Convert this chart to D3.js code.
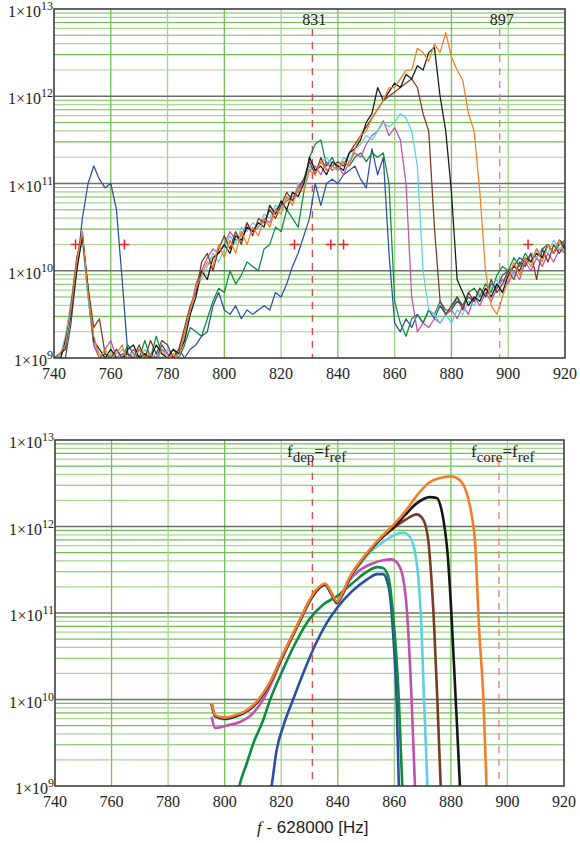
<!DOCTYPE html>
<html>
<head>
<meta charset="utf-8">
<script src="https://cdn.jsdelivr.net/npm/d3@7"></script>
<style>
  body { margin: 0; background: #fff; }
  text { font-family: "Liberation Serif", "DejaVu Serif", serif; fill: #222; }
</style>
</head>
<body>
<svg id="chart" width="580" height="843"></svg>
<script>
// ---- data ----
// top panel: measured spectra, log10 of the value, every 2 Hz from 740 to 920
var topFreq = d3.range(740, 921, 2);

var topBlue = [
  8.95, 9.0, 9.0, 9.4, 10.0, 10.6, 11.0, 11.2, 11.05, 10.95,
  11.0, 10.7, 9.9, 9.05, 8.95, 9.1, 9.0, 9.05, 9.0, 9.15,
  9.05, 9.0, 9.1, 9.0, 9.1, 9.15, 9.25, 9.3, 9.6, 9.75,
  9.55, 9.5, 9.6, 9.45, 9.55, 9.5, 9.55, 9.6, 9.55, 9.75,
  9.7, 9.85, 10.05, 10.2, 10.4, 10.6, 11.0, 10.75, 11.0, 11.05,
  11.0, 11.1, 11.15, 11.2, 11.05, 10.95, 11.4, 11.1, 11.3, 10.2,
  9.4, 9.3, 9.45, 9.35, 9.5, 9.4, 9.55, 9.45, 9.6, 9.5,
  9.55, 9.65, 9.6, 9.7, 9.65, 9.8, 9.7, 9.85, 9.8, 9.95,
  10.0, 10.05, 10.15, 10.1, 10.2, 10.15, 10.25, 10.3, 10.2, 10.35,
  10.3
];
var topGreen = [
  9.0, 9.05, 9.1, 9.5, 10.05, 10.38, 9.7, 9.15, 9.0, 9.05,
  9.0, 9.1, 9.0, 9.15, 9.05, 9.0, 9.2, 9.0, 9.25, 9.05,
  9.0, 9.1, 9.0, 9.15, 9.35, 9.3, 9.25, 9.45, 9.65, 9.8,
  9.75, 10.0, 9.85, 9.95, 10.1, 10.05, 10.0, 10.25, 10.3, 10.5,
  10.45, 10.7, 10.6, 10.5, 10.9, 11.3, 11.45, 11.5, 11.2, 11.3,
  11.15, 11.25, 11.2, 11.3, 11.35, 11.25, 11.35, 11.3, 11.35, 11.0,
  9.65, 9.4, 9.25, 9.45, 9.5, 9.4, 9.55, 9.5, 9.65, 9.55,
  9.55, 9.7, 9.6, 9.75, 9.8, 9.7, 9.85, 9.75, 9.95, 10.05,
  10.0, 10.15, 10.05, 10.2, 10.1, 10.25, 10.15, 10.3, 10.2, 10.3,
  10.35
];
var topMagenta = [
  8.95, 9.0, 9.15, 9.55, 10.05, 10.4, 9.75, 9.15, 9.0, 9.1,
  9.2, 9.0, 9.05, 9.0, 9.1, 9.0, 9.05, 8.95, 9.0, 9.1,
  9.05, 9.0, 9.1, 9.3, 9.55, 9.85, 10.0, 10.15, 10.25, 10.2,
  10.3, 10.45, 10.35, 10.4, 10.55, 10.45, 10.5, 10.6, 10.55, 10.7,
  10.75, 10.8, 10.85, 10.9, 11.05, 11.15, 11.2, 11.1, 11.25, 11.15,
  11.2, 11.1, 11.25, 11.35, 11.3, 11.45, 11.55, 11.6, 11.72, 11.55,
  11.64, 11.5, 11.0, 9.7, 9.3, 9.4, 9.35, 9.45, 9.4, 9.5,
  9.55, 9.45, 9.6, 9.5, 9.7, 9.6, 9.75, 9.65, 9.8, 9.9,
  9.85, 10.0, 9.9, 10.1, 10.0, 10.15, 10.05, 10.2, 10.1, 10.25,
  10.2
];
var topCyan = [
  9.0, 9.0, 9.25, 9.65, 10.1, 10.35, 9.7, 9.2, 9.05, 9.0,
  9.05, 9.0, 9.1, 9.0, 9.05, 8.95, 9.1, 9.0, 9.05, 9.0,
  9.1, 9.0, 9.05, 9.25, 9.5, 9.8, 9.9, 10.05, 10.2, 10.1,
  10.25, 10.4, 10.3, 10.5, 10.45, 10.55, 10.5, 10.65, 10.6, 10.75,
  10.7, 10.85, 10.8, 11.0, 10.95, 11.2, 11.15, 11.25, 11.3, 11.2,
  11.15, 11.3, 11.25, 11.4, 11.45, 11.55, 11.5, 11.6, 11.7, 11.65,
  11.7, 11.8, 11.75, 11.6, 11.2, 10.0, 9.55, 9.5, 9.4, 9.5,
  9.4, 9.55, 9.5, 9.65, 9.6, 9.75, 9.7, 9.8, 9.9, 9.75,
  10.0, 9.95, 10.1, 10.05, 10.2, 10.15, 10.25, 10.2, 10.35, 10.25,
  10.3
];
var topBrown = [
  8.95, 9.05, 9.1, 9.6, 10.15, 10.42, 9.8, 9.35, 9.45, 9.05,
  9.0, 9.1, 9.0, 9.05, 9.0, 9.15, 9.0, 9.2, 9.05, 9.2,
  9.15, 9.0, 9.1, 9.35, 9.6, 9.75, 10.1, 10.2, 10.0, 10.25,
  10.4, 10.25, 10.45, 10.3, 10.55, 10.4, 10.6, 10.55, 10.7, 10.6,
  10.75, 10.9, 10.8, 10.95, 11.05, 11.25, 11.1, 11.3, 11.15, 11.2,
  11.25, 11.2, 11.35, 11.45, 11.55, 11.65, 11.75, 11.85, 11.95, 12.0,
  12.05, 12.1, 12.15, 12.2, 12.1, 11.8, 11.6, 10.5, 9.65, 9.5,
  9.6, 9.7, 9.55, 9.75, 9.65, 9.8, 9.7, 9.9, 9.75, 9.85,
  10.0, 9.9, 10.1, 10.05, 10.2, 9.9, 10.25, 10.1, 10.3, 10.2,
  10.3
];
var topBlack = [
  9.0, 8.95, 9.2, 9.5, 10.0, 10.4, 9.8, 9.2, 9.1, 9.0,
  9.1, 9.0, 8.95, 9.1, 9.15, 9.0, 9.05, 9.0, 9.15, 9.05,
  9.0, 9.1, 9.05, 9.2, 9.5, 9.7, 10.0, 9.9, 10.15, 10.2,
  10.3, 10.2, 10.4, 10.35, 10.5, 10.45, 10.55, 10.5, 10.75, 10.65,
  10.8, 10.7, 10.9, 10.85, 11.0, 11.3, 11.15, 11.2, 11.1, 11.25,
  11.2, 11.15, 11.35, 11.4, 11.5, 11.7, 11.8, 12.1, 11.95, 12.05,
  12.15, 12.1, 12.25, 12.2, 12.35, 12.3, 12.5, 12.56, 12.0, 11.6,
  10.9, 9.9, 9.75, 9.6, 9.7, 9.65, 9.8, 9.7, 9.85, 9.75,
  9.95, 10.05, 10.0, 10.15, 10.1, 10.2, 10.15, 10.3, 10.2, 10.35,
  10.25
];
var topOrange = [
  8.95, 9.05, 9.15, 9.55, 10.1, 10.45, 9.75, 9.25, 9.0, 9.1,
  9.0, 9.05, 9.15, 8.95, 9.0, 9.1, 9.0, 9.05, 8.95, 9.1,
  9.0, 9.05, 9.0, 9.3, 9.55, 9.8, 9.95, 10.1, 10.05, 10.3,
  10.15, 10.35, 10.2, 10.45, 10.3, 10.5, 10.4, 10.6, 10.5, 10.7,
  10.65, 10.85, 10.75, 10.95, 10.9, 11.15, 11.1, 11.25, 11.15, 11.2,
  11.15, 11.25, 11.2, 11.4, 11.55, 11.6, 11.75, 11.85, 11.95, 12.1,
  12.1, 12.2, 12.3, 12.3, 12.55, 12.5, 12.4, 12.6, 12.5, 12.73,
  12.45, 12.3, 12.18, 11.8, 11.6, 10.9, 10.0, 9.6, 9.5, 9.7,
  9.9, 10.1, 9.95, 10.15, 10.05, 10.25, 10.1, 10.3, 10.2, 10.35,
  10.2
];

// bottom panel: model curves, [f, log10 value]
var botBlue = [[815.5, 8.8], [816.6, 9.0], [818.4, 9.42], [820.7, 9.69], [824.2, 10.0], [828, 10.32],
  [832, 10.63], [836, 10.88], [840, 11.07], [845, 11.25], [850, 11.38], [854, 11.45], [856, 11.45],
  [858, 11.3], [859.5, 10.8], [860.8, 10.0], [861.6, 9.0], [861.9, 8.7]];
var botGreen = [[804, 8.8], [805.2, 9.0], [807.8, 9.26], [810.1, 9.49], [813.6, 9.76], [816, 9.99],
  [820, 10.3], [825, 10.65], [830, 10.93], [835, 11.1], [840, 11.2], [845, 11.34], [850, 11.47],
  [854, 11.53], [856, 11.52], [858, 11.4], [859.5, 11.0], [861.6, 10.0], [862.8, 9.0], [863.1, 8.7]];
var botMagenta = [[795.4, 9.8], [796.6, 9.67], [800.7, 9.7], [805.4, 9.74], [810, 9.84], [813.6, 10.0],
  [817, 10.22], [820, 10.45], [824, 10.73], [827, 10.93], [830, 11.13], [833, 11.27], [835.5, 11.32],
  [838, 11.2], [839.7, 11.11], [841.5, 11.2], [844, 11.37], [848, 11.5], [852, 11.57], [856, 11.61],
  [859, 11.62], [861, 11.58], [863, 11.42], [864.5, 11.0], [866.1, 10.0], [867.3, 9.0], [867.6, 8.7]];
var botCyan = [[795.4, 9.94], [796.6, 9.8], [800, 9.77], [804, 9.8], [808, 9.86], [812, 9.98],
  [816, 10.18], [820, 10.46], [824, 10.73], [827, 10.93], [830, 11.13], [833, 11.27], [835.5, 11.32],
  [838, 11.2], [839.7, 11.11], [841.5, 11.2], [844, 11.38], [848, 11.57], [852, 11.72], [856, 11.82],
  [860, 11.9], [863, 11.93], [865, 11.9], [867, 11.75], [868.5, 11.4], [869.5, 10.9], [870.5, 10.0],
  [871.7, 9.0], [872, 8.7]];
var botBrown = [[795.4, 9.95], [796.6, 9.81], [800, 9.78], [804, 9.81], [808, 9.87], [812, 9.99],
  [816, 10.19], [820, 10.47], [824, 10.74], [827, 10.94], [830, 11.14], [833, 11.28], [835.5, 11.33],
  [838, 11.21], [839.7, 11.12], [841.5, 11.21], [844, 11.39], [848, 11.59], [852, 11.75], [856, 11.88],
  [860, 11.99], [864, 12.08], [867.9, 12.14], [870.2, 12.08], [871.4, 11.96], [872, 11.84], [873, 11.45],
  [874, 10.9], [875.2, 10.0], [876.4, 9.0], [876.8, 8.7]];
var botBlack = [[795.4, 9.95], [796.6, 9.81], [800, 9.78], [804, 9.81], [808, 9.87], [812, 9.99],
  [816, 10.19], [820, 10.47], [824, 10.74], [827, 10.94], [830, 11.14], [833, 11.28], [835.5, 11.33],
  [838, 11.21], [839.7, 11.12], [841.5, 11.21], [844, 11.39], [848, 11.59], [852, 11.75], [856, 11.89],
  [860, 12.0], [864, 12.14], [868, 12.27], [872.6, 12.34], [875, 12.33], [876.7, 12.19], [877.9, 11.96],
  [878.8, 11.7], [880, 11.1], [881.7, 10.0], [883.2, 9.0], [883.6, 8.7]];
var botOrange = [[795.4, 9.96], [796.6, 9.82], [800, 9.79], [804, 9.82], [808, 9.88], [812, 10.0],
  [816, 10.2], [820, 10.48], [824, 10.75], [827, 10.95], [830, 11.15], [833, 11.29], [835.5, 11.34],
  [838, 11.22], [839.7, 11.13], [841.5, 11.22], [844, 11.4], [848, 11.6], [852, 11.76], [856, 11.9],
  [860, 12.03], [864, 12.18], [868, 12.36], [872, 12.5], [876, 12.56], [880, 12.58], [883, 12.54],
  [886, 12.34], [887.5, 12.1], [888.5, 11.84], [890, 10.8], [891.5, 10.0], [892.6, 9.0], [893, 8.7]];

var seriesNames = ['blue', 'green', 'magenta', 'cyan', 'brown', 'black', 'orange'];
var seriesColors = ['#2b4ea6', '#0f8a3f', '#c24fb3', '#5ecfe6', '#7a3a24', '#151515', '#f47d2c'];
var topSeries = [topBlue, topGreen, topMagenta, topCyan, topBrown, topBlack, topOrange];
var botSeries = [botBlue, botGreen, botMagenta, botCyan, botBrown, botBlack, botOrange];

var xTicks = [740, 760, 780, 800, 820, 840, 860, 880, 900, 920];
var yTicks = [1e9, 1e10, 1e11, 1e12, 1e13];
var yExps = ['9', '10', '11', '12', '13'];
var markFreqs = [831, 897];
var topMarkLabels = ['831', '897'];
var crossFreqs = [747.6, 764.8, 824.7, 837.5, 842, 907];
var crossValue = 2e10;

// ---- drawing ----
var svg = d3.select('#chart');

function drawPanel(p) {
  var x = d3.scaleLinear().domain([740, 920]).range([p.left, p.right]);
  var y = d3.scaleLog().domain([1e9, 1e13]).range([p.bottom, p.top]);
  var g = svg.append('g');

  svg.append('clipPath').attr('id', 'clip' + p.id)
    .append('rect')
    .attr('x', p.left).attr('y', p.top)
    .attr('width', p.right - p.left).attr('height', p.bottom - p.top);

  // minor horizontal grid (2..9 per decade)
  var minor = [];
  [9, 10, 11, 12].forEach(function(d) {
    for (var m = 2; m <= 9; m++) minor.push({ v: m * Math.pow(10, d), m: m });
  });
  g.selectAll('line.hmin').data(minor).enter().append('line')
    .attr('x1', p.left).attr('x2', p.right)
    .attr('y1', function(d) { return y(d.v); })
    .attr('y2', function(d) { return y(d.v); })
    .attr('stroke', function(d) { return d.m % 2 ? '#6fbf52' : '#a6d890'; })
    .attr('stroke-width', 1.2);

  // vertical grid
  g.selectAll('line.vgrid').data(xTicks.slice(1, -1)).enter().append('line')
    .attr('x1', function(d) { return x(d); }).attr('x2', function(d) { return x(d); })
    .attr('y1', p.top).attr('y2', p.bottom)
    .attr('stroke', function(d, i) { return i % 2 ? '#9fd68a' : '#72c155'; })
    .attr('stroke-width', 1.3);

  // decade lines
  g.selectAll('line.dec').data(yTicks.slice(1, -1)).enter().append('line')
    .attr('x1', p.left).attr('x2', p.right)
    .attr('y1', function(d) { return y(d); }).attr('y2', function(d) { return y(d); })
    .attr('stroke', '#6e6e6e').attr('stroke-width', 1.6);

  // red dashed markers
  g.selectAll('line.mark').data(markFreqs).enter().append('line')
    .attr('x1', function(d) { return x(d); }).attr('x2', function(d) { return x(d); })
    .attr('y1', p.top + 20).attr('y2', p.bottom)
    .attr('stroke', function(d, i) { return i ? '#ee7a7e' : '#e8434a'; })
    .attr('stroke-width', 1.3)
    .attr('stroke-dasharray', '7,6');

  // series
  var line = d3.line()
    .x(function(d) { return x(d[0]); })
    .y(function(d) { return y(d[1]); })
    .curve(p.curve);
  var lines = g.append('g').attr('clip-path', 'url(#clip' + p.id + ')');
  p.series.forEach(function(s, i) {
    lines.append('path')
      .datum(s)
      .attr('fill', 'none')
      .attr('stroke', seriesColors[i])
      .attr('stroke-width', p.lineWidth)
      .attr('stroke-linejoin', 'round')
      .attr('d', line);
  });

  // frame
  g.append('rect')
    .attr('x', p.left).attr('y', p.top)
    .attr('width', p.right - p.left).attr('height', p.bottom - p.top)
    .attr('fill', 'none').attr('stroke', '#333').attr('stroke-width', 1.5);

  // x tick labels
  g.selectAll('text.xt').data(xTicks).enter().append('text')
    .attr('x', function(d) { return x(d); })
    .attr('y', p.bottom + 21)
    .attr('text-anchor', 'middle')
    .style('font-size', '16px')
    .text(function(d) { return d; });

  // y tick labels 1x10^n
  var yl = g.selectAll('text.yt').data(yTicks).enter().append('text')
    .attr('x', p.left - 1)
    .attr('y', function(d) { return y(d) + 8; })
    .attr('text-anchor', 'end')
    .style('font-size', '16px');
  yl.append('tspan').text('1\u00d710');
  yl.append('tspan').attr('dy', -7).style('font-size', '12px')
    .text(function(d, i) { return yExps[i]; });

  return { x: x, y: y, g: g };
}

// top panel
var topP = drawPanel({
  id: 'top', left: 54, right: 565, top: 9, bottom: 358,
  lineWidth: 1.25, curve: d3.curveLinear,
  series: topSeries.map(function(vals) {
    return vals.map(function(v, i) { return [topFreq[i], Math.pow(10, v)]; });
  })
});

topP.g.selectAll('text.ml').data(markFreqs).enter().append('text')
  .attr('x', function(d) { return topP.x(d) + 2; })
  .attr('y', 25)
  .attr('text-anchor', 'middle')
  .style('font-size', '16px')
  .text(function(d, i) { return topMarkLabels[i]; });

topP.g.selectAll('path.cross').data(crossFreqs).enter().append('path')
  .attr('transform', function(d) { return 'translate(' + topP.x(d) + ',' + topP.y(crossValue) + ')'; })
  .attr('d', 'M-5,0H5M0,-5V5')
  .attr('stroke', '#e5262e').attr('stroke-width', 1.5).attr('fill', 'none');

// bottom panel
var botP = drawPanel({
  id: 'bot', left: 55, right: 564, top: 440, bottom: 786,
  lineWidth: 2.6, curve: d3.curveMonotoneX,
  series: botSeries.map(function(pts) {
    return pts.map(function(d) { return [d[0], Math.pow(10, d[1])]; });
  })
});

function subLabel(xpos, sub) {
  var t = botP.g.append('text').attr('x', xpos).attr('y', 457).style('font-size', '17px');
  t.append('tspan').text('f');
  t.append('tspan').attr('dy', 5).style('font-size', '15px').text(sub);
  t.append('tspan').attr('dy', -5).text('=f');
  t.append('tspan').attr('dy', 5).style('font-size', '15px').text('ref');
}
subLabel(287, 'dep');
subLabel(471, 'core');

var xl = svg.append('text').attr('x', 257).attr('y', 833).style('font-size', '17px');
xl.append('tspan').style('font-style', 'italic').text('f');
xl.append('tspan').style('font-family', '"Liberation Sans", Arial, sans-serif').text(' - 628000 [Hz]');
</script>
</body>
</html>
